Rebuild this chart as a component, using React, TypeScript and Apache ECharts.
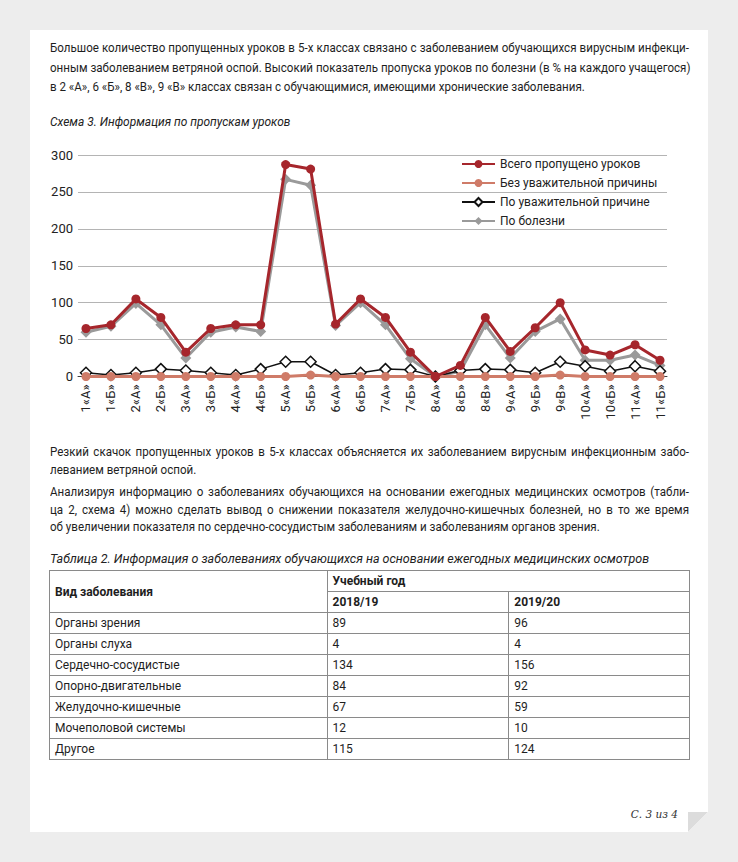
import React, { useEffect, useRef } from "react";
import * as echarts from "echarts";

const categories = ["1«А»","1«Б»","2«А»","2«Б»","3«А»","3«Б»","4«А»","4«Б»","5«А»","5«Б»","6«А»","6«Б»","7«А»","7«Б»","8«А»","8«Б»","8«В»","9«А»","9«Б»","9«В»","10«А»","10«Б»","11«А»","11«Б»"];
const seriesNames = ["Всего пропущено уроков","Без уважительной причины","По уважительной причине","По болезни"];
const total = [65,70,105,80,33,65,70,70,287,281,71,105,80,33,0,15,80,34,66,100,36,29,43,22];
const unexcused = [0,0,0,0,0,0,0,0,0,2,0,0,0,0,0,0,0,0,0,2,0,0,0,0];
const excused = [5,2,5,10,8,5,2,10,20,20,2,5,10,9,0,8,10,9,5,20,14,7,14,7];
const illness = [60,68,99,70,25,60,67,61,267,259,69,100,70,24,0,7,70,25,61,78,22,22,29,15];
const yTicks = { min: 0, max: 300, step: 50 };

const tableYears = ["2018/19","2019/20"];
const diseases = ["Органы зрения","Органы слуха","Сердечно-сосудистые","Опорно-двигательные","Желудочно-кишечные","Мочеполовой системы","Другое"];
const year1 = [89,4,134,84,67,12,115];
const year2 = [96,4,156,92,59,10,124];

const FONT = "Roboto, 'Noto Sans', sans-serif";
const SX = 0.89;

function Chart() {
  const ref = useRef<HTMLDivElement>(null);
  useEffect(() => {
    if (!ref.current) return;
    const chart = echarts.init(ref.current, null, { renderer: "svg" });
    const toPairs = (arr: number[]) => arr.map((v, i) => [i, v]);
    chart.setOption({
      animation: false,
      textStyle: { fontFamily: FONT },
      grid: { left: 38, top: 20, width: 589, height: 221.5 },
      legend: {
        orient: "vertical",
        left: 416,
        top: 16,
        itemWidth: 33,
        itemHeight: 10,
        itemGap: 3,
        textStyle: { fontSize: 12, color: "#222", lineHeight: 16, fontFamily: FONT },
        data: seriesNames,
      },
      xAxis: {
        type: "value",
        min: -0.32,
        max: 23.28,
        splitLine: { show: false },
        axisTick: { show: false },
        axisLine: { show: true, lineStyle: { color: "#404040", width: 1 } },
        axisLabel: {
          customValues: categories.map((_, i) => i),
          formatter: (v: number) => categories[Math.round(v)] ?? "",
          rotate: 90,
          margin: 8,
          fontSize: 13,
          color: "#222",
          fontFamily: FONT,
        },
      },
      yAxis: {
        type: "value",
        min: yTicks.min,
        max: yTicks.max,
        interval: yTicks.step,
        axisLine: { show: false },
        axisTick: { show: false },
        splitLine: { lineStyle: { color: "#b4b4b4", width: 1 } },
        axisLabel: { fontSize: 13, color: "#222", margin: 5, fontFamily: FONT },
      },
      series: [
        {
          name: seriesNames[0], type: "line", data: toPairs(total), z: 5,
          symbol: "circle", symbolSize: 9,
          lineStyle: { color: "#a6262c", width: 3 },
          itemStyle: { color: "#a6262c" },
        },
        {
          name: seriesNames[1], type: "line", data: toPairs(unexcused), z: 4,
          symbol: "circle", symbolSize: 9,
          lineStyle: { color: "#cf7b68", width: 3 },
          itemStyle: { color: "#cf7b68" },
        },
        {
          name: seriesNames[2], type: "line", data: toPairs(excused), z: 3,
          symbol: "diamond", symbolSize: 11,
          lineStyle: { color: "#111", width: 1.5 },
          itemStyle: { color: "#fff", borderColor: "#111", borderWidth: 1.5 },
        },
        {
          name: seriesNames[3], type: "line", data: toPairs(illness), z: 2,
          symbol: "diamond", symbolSize: 11,
          lineStyle: { color: "#9a9a9a", width: 3 },
          itemStyle: { color: "#9a9a9a" },
        },
      ],
    });
    return () => chart.dispose();
  }, []);
  return <div ref={ref} style={{ position: "absolute", left: 40, top: 135, width: 640, height: 290 }} />;
}

function JLines({ lines, top, lh }: { lines: string[]; top: number; lh: number }) {
  return (
    <div style={{ position: "absolute", left: 50, top, width: 639 / SX, transform: `scaleX(${SX})`, transformOrigin: "0 0", fontFamily: FONT, fontSize: 13, color: "#1e1e1e", lineHeight: lh + "px" }}>
      {lines.map((l, i) => (
        <div key={i} style={{ textAlign: i < lines.length - 1 ? "justify" : "left", textAlignLast: i < lines.length - 1 ? "justify" : "left", whiteSpace: "nowrap" as const }}>{l}</div>
      ))}
    </div>
  );
}

export default function App() {
  const cell: React.CSSProperties = { border: "1px solid #8a8a8a", padding: "0 5px", height: 20, fontSize: 12, color: "#1e1e1e" };
  return (
    <div style={{ position: "fixed", left: 0, top: 0, width: 738, height: 862, background: "#ededed", overflow: "hidden", fontFamily: FONT }}>
      <div style={{ position: "absolute", left: 30, top: 30, width: 678, height: 802, background: "#fff" }} />
      <svg style={{ position: "absolute", left: 688, top: 812 }} width={20} height={20}>
        <polygon points="0,0 20,0 0,20" fill="#dcdcdc" />
        <polygon points="20,0 20,20 0,20" fill="#ededed" />
      </svg>
      <div style={{ position: "absolute", left: 600, top: 808, width: 78, textAlign: "right", fontFamily: "'DejaVu Serif', 'Liberation Serif', serif", fontStyle: "italic", fontSize: 10.5, color: "#333" }}>С. 3 из 4</div>

      <JLines top={38} lh={19.5} lines={[
        "Большое количество пропущенных уроков в 5-х классах связано с заболеванием обучающихся вирусным инфекци-",
        "онным заболеванием ветряной оспой. Высокий показатель пропуска уроков по болезни (в % на каждого учащегося)",
        "в 2 «А», 6 «Б», 8 «В», 9 «В» классах связан с обучающимися, имеющими хронические заболевания.",
      ]} />

      <div style={{ position: "absolute", left: 50, top: 114, transform: "scaleX(0.92)", transformOrigin: "0 0", fontFamily: FONT, fontStyle: "italic", fontSize: 13, color: "#222", whiteSpace: "nowrap" }}>Схема 3. Информация по пропускам уроков</div>

      <Chart />

      <JLines top={443} lh={18} lines={[
        "Резкий скачок пропущенных уроков в 5-х классах объясняется их заболеванием вирусным инфекционным забо-",
        "леванием ветряной оспой.",
      ]} />
      <JLines top={483} lh={17.5} lines={[
        "Анализируя информацию о заболеваниях обучающихся на основании ежегодных медицинских осмотров (табли-",
        "ца 2, схема 4) можно сделать вывод о снижении показателя желудочно-кишечных болезней, но в то же время",
        "об увеличении показателя по сердечно-сосудистым заболеваниям и заболеваниям органов зрения.",
      ]} />

      <div style={{ position: "absolute", left: 50, top: 551, fontFamily: FONT, fontStyle: "italic", fontSize: 12.5, color: "#222", whiteSpace: "nowrap" }}>Таблица 2. Информация о заболеваниях обучающихся на основании ежегодных медицинских осмотров</div>

      <table style={{ position: "absolute", left: 49, top: 570, width: 641, borderCollapse: "collapse", fontFamily: FONT }}>
        <colgroup>
          <col style={{ width: 278 }} />
          <col style={{ width: 182 }} />
          <col style={{ width: 181 }} />
        </colgroup>
        <tbody>
          <tr>
            <td rowSpan={2} style={{ ...cell, fontWeight: 700 }}>Вид заболевания</td>
            <td colSpan={2} style={{ ...cell, fontWeight: 700 }}>Учебный год</td>
          </tr>
          <tr>
            {tableYears.map((y) => <td key={y} style={{ ...cell, fontWeight: 700 }}>{y}</td>)}
          </tr>
          {diseases.map((d, i) => (
            <tr key={d}>
              <td style={cell}>{d}</td>
              <td style={cell}>{year1[i]}</td>
              <td style={cell}>{year2[i]}</td>
            </tr>
          ))}
        </tbody>
      </table>
    </div>
  );
}
